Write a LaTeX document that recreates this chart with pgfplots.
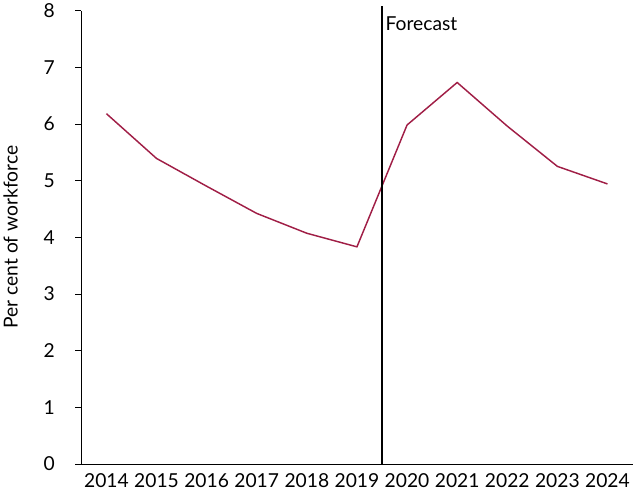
\documentclass[border=0pt]{standalone}
\usepackage{fontspec}
\setmainfont{Lato}
\usepackage{pgfplots}
\pgfplotsset{compat=1.18}
\begin{document}
\begin{tikzpicture}
\begin{axis}[
  width=530pt, height=436pt, scale only axis,
  axis lines*=left,
  xmin=-0.5, xmax=10.5, ymin=0, ymax=8,
  xtick={0,...,10},
  xticklabels={2014,2015,2016,2017,2018,2019,2020,2021,2022,2023,2024},
  extra x ticks={-0.5,0.5,...,10.5}, extra x tick labels={},
  extra x tick style={major tick length=6pt, tick style={black}},
  major x tick style={draw=none},
  ytick={0,...,8},
  tick align=outside,
  y tick style={black}, major tick length=6pt,
  ylabel={Per cent of workforce},
  ylabel style={yshift=18pt},
  ticklabel style={font=\fontsize{18.5}{18.5}\selectfont},
  yticklabel style={xshift=-16pt},
  label style={font=\fontsize{18.5}{18.5}\selectfont},
  /pgf/number format/assume math mode=true,
  clip=false,
]
\addplot[color={rgb,255:red,160;green,30;blue,70}, line width=1.4pt, mark=none] coordinates {
(0,6.18)(1,5.39)(2,4.9)(3,4.42)(4,4.07)(5,3.83)(6,5.98)(7,6.73)(8,5.96)(9,5.25)(10,4.94)};
\draw[black, line width=1.1pt] (axis cs:5.5,0) -- (axis cs:5.5,8.08);
\node[anchor=north west, font=\fontsize{18.5}{18.5}\selectfont] at (axis cs:5.5,7.95) {Forecast};
\end{axis}
\end{tikzpicture}
\end{document}
